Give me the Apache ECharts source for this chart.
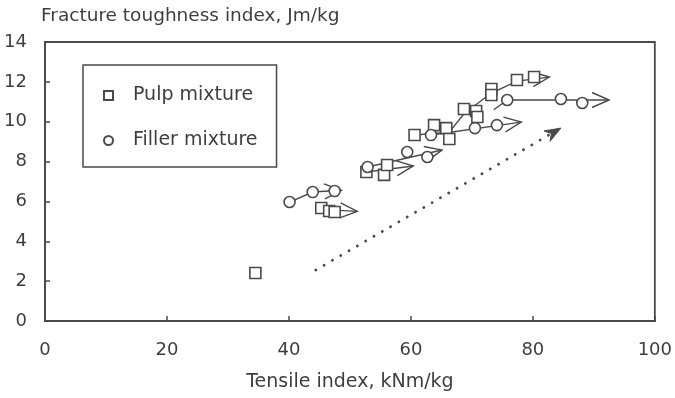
<!DOCTYPE html>
<html>
<head>
<meta charset="utf-8">
<script src="https://cdn.jsdelivr.net/npm/echarts@6/dist/echarts.min.js"></script>
<style>
  html, body { margin: 0; padding: 0; background: #fff; }
  #chart { width: 675px; height: 398px; }
</style>
</head>
<body>
<div id="chart"></div>
<script>
// ---- Data ----
const xTicks = [0, 20, 40, 60, 80, 100];
const yTicks = [0, 2, 4, 6, 8, 10, 12, 14];

const pulpX = [34.5, 45.3, 46.6, 47.5, 52.7, 55.6, 56.1, 60.6, 63.8, 65.8, 66.3, 68.7, 70.7, 70.9, 73.2, 73.2, 77.4, 80.2];
const pulpY = [2.41, 5.67, 5.52, 5.47, 7.48, 7.33, 7.83, 9.33, 9.83, 9.68, 9.13, 10.64, 10.54, 10.24, 11.64, 11.34, 12.09, 12.24];

const fillerX = [40.1, 43.9, 47.5, 52.9, 59.4, 62.7, 63.3, 70.5, 74.1, 75.8, 84.6, 88.1];
const fillerY = [5.97, 6.47, 6.52, 7.73, 8.48, 8.23, 9.33, 9.68, 9.83, 11.09, 11.14, 10.94];

// trend arrows (polylines ending with an open arrowhead)
const trendPaths = [
  [[40.1, 5.97], [43.9, 6.47], [48.6, 6.56]],
  [[45.3, 5.6], [51.2, 5.5]],
  [[52.7, 7.48], [60.4, 7.78]],
  [[52.9, 7.73], [65.1, 8.58]],
  [[63.3, 9.33], [78.1, 9.98]],
  [[60.6, 9.33], [66.3, 9.48], [68.7, 10.4], [73.2, 11.44], [77.4, 12.04], [82.7, 12.24]],
  [[73.6, 10.6], [75.8, 11.09], [92.5, 11.09]]
];

// overall dotted direction arrow
const mainArrow = [[44.4, 2.56], [84.6, 9.68]];

const seriesNames = ['Pulp mixture', 'Filler mixture'];

// ---- Styles ----
const INK = '#4a4a4a';
const TXT = '#3e3e3e';
const FONT = 'DejaVu Sans';

const chart = echarts.init(document.getElementById('chart'), null, { renderer: 'canvas' });

function openArrow(tip, prev, L, W) {
  const ang = Math.atan2(tip[1] - prev[1], tip[0] - prev[0]);
  const ux = Math.cos(ang), uy = Math.sin(ang);
  return [
    [tip[0] - L * ux + W * uy, tip[1] - L * uy - W * ux],
    [tip[0], tip[1]],
    [tip[0] - L * ux - W * uy, tip[1] - L * uy + W * ux]
  ];
}

const option = {
  animation: false,
  backgroundColor: '#ffffff',
  title: {
    text: 'Fracture toughness index, Jm/kg',
    left: 36, top: 2,
    textStyle: { fontFamily: FONT, fontSize: 18.5, fontWeight: 'normal', color: TXT }
  },
  legend: {
    orient: 'vertical',
    left: 83, top: 65,
    padding: [21, 19, 17, 20],
    itemGap: 26,
    itemWidth: 9, itemHeight: 9,
    borderColor: INK, borderWidth: 1.5, borderRadius: 0,
    data: seriesNames,
    textStyle: { fontFamily: FONT, fontSize: 19, color: TXT, padding: [0, 0, 0, 15] },
    selectedMode: false
  },
  grid: { left: 45, right: 19, top: 42, bottom: 77, show: true, borderColor: INK, borderWidth: 1.8 },
  xAxis: {
    type: 'value', min: 0, max: 100, interval: 20,
    name: 'Tensile index, kNm/kg', nameLocation: 'middle', nameGap: 52,
    nameTextStyle: { fontFamily: FONT, fontSize: 19, color: TXT },
    axisLine: { show: true, lineStyle: { color: INK, width: 1.8 } },
    axisTick: { show: true, inside: true, length: 5, lineStyle: { color: INK, width: 1.5 } },
    axisLabel: { margin: 20, fontFamily: FONT, fontSize: 18, color: TXT },
    splitLine: { show: false }
  },
  yAxis: {
    type: 'value', min: 0, max: 14, interval: 2,
    axisLine: { show: true, lineStyle: { color: INK, width: 1.8 } },
    axisTick: { show: true, inside: true, length: 5, lineStyle: { color: INK, width: 1.5 } },
    axisLabel: { margin: 18, fontFamily: FONT, fontSize: 18, color: TXT },
    splitLine: { show: false }
  },
  series: [
    {
      name: 'trends', type: 'custom', silent: true, z: 1,
      data: trendPaths.map(p => p[p.length - 1]),
      renderItem: function (params, api) {
        const pts = trendPaths[params.dataIndex].map(p => api.coord(p));
        const n = pts.length;
        const head = openArrow(pts[n - 1], pts[n - 2], 17, 7.5);
        const st = { stroke: INK, lineWidth: 1.4, fill: null };
        return {
          type: 'group',
          children: [
            { type: 'polyline', shape: { points: pts }, style: st },
            { type: 'polyline', shape: { points: head }, style: st }
          ]
        };
      }
    },
    {
      name: 'direction', type: 'custom', silent: true, z: 1,
      data: [mainArrow[1]],
      renderItem: function (params, api) {
        const a = api.coord(mainArrow[0]);
        const b = api.coord(mainArrow[1]);
        const ang = Math.atan2(b[1] - a[1], b[0] - a[0]);
        const ux = Math.cos(ang), uy = Math.sin(ang);
        const L = 16, W = 6, N = 11;
        const shaftEnd = [b[0] - N * ux, b[1] - N * uy];
        const head = [
          [b[0], b[1]],
          [b[0] - L * ux + W * uy, b[1] - L * uy - W * ux],
          [b[0] - N * ux, b[1] - N * uy],
          [b[0] - L * ux - W * uy, b[1] - L * uy + W * ux]
        ];
        return {
          type: 'group',
          children: [
            { type: 'line', shape: { x1: a[0], y1: a[1], x2: shaftEnd[0], y2: shaftEnd[1] },
              style: { stroke: INK, lineWidth: 2.8, lineDash: [0.1, 9.5], lineCap: 'round' } },
            { type: 'polygon', shape: { points: head }, style: { fill: INK, stroke: INK, lineWidth: 1 } }
          ]
        };
      }
    },
    {
      name: seriesNames[0], type: 'scatter', z: 3,
      symbol: 'rect', symbolSize: 11,
      itemStyle: { color: '#ffffff', borderColor: INK, borderWidth: 1.6, opacity: 1 },
      data: pulpX.map((x, i) => [x, pulpY[i]])
    },
    {
      name: seriesNames[1], type: 'scatter', z: 3,
      symbol: 'circle', symbolSize: 11,
      itemStyle: { color: '#ffffff', borderColor: INK, borderWidth: 1.6, opacity: 1 },
      data: fillerX.map((x, i) => [x, fillerY[i]])
    }
  ]
};

chart.setOption(option);
</script>
</body>
</html>
